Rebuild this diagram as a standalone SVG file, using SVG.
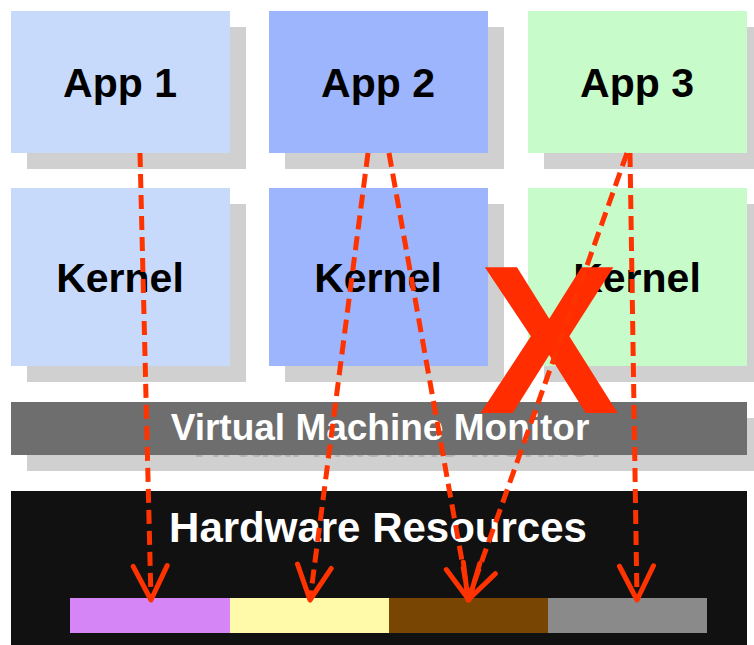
<svg xmlns="http://www.w3.org/2000/svg" width="754" height="645" viewBox="0 0 754 645">
<defs>
<style>
.shadow{fill:#d0d0d0}
.lbl{font-family:"Liberation Sans",Arial,sans-serif;font-weight:bold;text-anchor:middle}
.dark{fill:#000;font-size:41px}
.conn{fill:none;stroke:#ff3300;stroke-width:5;stroke-dasharray:14 7}
</style>
<marker id="vh" markerUnits="userSpaceOnUse" orient="auto" refX="0" refY="0" markerWidth="40" markerHeight="40" overflow="visible">
<path d="M-34,-17 L0,0 L-34,17" fill="none" stroke="#ff3300" stroke-width="5" stroke-linecap="round" stroke-linejoin="round"/>
</marker>
</defs>
<rect width="754" height="645" fill="#fff"/>

<g id="app1">
<rect class="shadow" x="27" y="27" width="219" height="142"/>
<rect x="11" y="11" width="219" height="142" fill="#c8dafc"/>
<text class="lbl dark" x="120" y="97">App 1</text>
</g>
<g id="app2">
<rect class="shadow" x="285" y="27" width="219" height="142"/>
<rect x="269" y="11" width="219" height="142" fill="#9db5fc"/>
<text class="lbl dark" x="378" y="97">App 2</text>
</g>
<g id="app3">
<rect class="shadow" x="544" y="27" width="219" height="142"/>
<rect x="528" y="11" width="219" height="142" fill="#c8fbca"/>
<text class="lbl dark" x="637" y="97">App 3</text>
</g>

<g id="kernel1">
<rect class="shadow" x="27" y="204" width="219" height="178"/>
<rect x="11" y="188" width="219" height="178" fill="#c8dafc"/>
<text class="lbl dark" x="120" y="292">Kernel</text>
</g>
<g id="kernel2">
<rect class="shadow" x="285" y="204" width="219" height="178"/>
<rect x="269" y="188" width="219" height="178" fill="#9db5fc"/>
<text class="lbl dark" x="378" y="292">Kernel</text>
</g>
<g id="kernel3">
<rect class="shadow" x="544" y="204" width="219" height="178"/>
<rect x="528" y="188" width="219" height="178" fill="#c8fbca"/>
<text class="lbl dark" x="637" y="292">Kernel</text>
</g>

<g id="vmm">
<rect class="shadow" x="27" y="418" width="740" height="53"/>
<text class="lbl" x="396" y="457" font-size="37" fill="#b4b4b4">Virtual Machine Monitor</text>
<rect x="11" y="402" width="736" height="53" fill="#6e6e6e"/>
<text class="lbl" x="380" y="440" font-size="37" fill="#fff">Virtual Machine Monitor</text>
</g>

<g id="hardware">
<rect x="11" y="491" width="736" height="160" fill="#111"/>
<text class="lbl" x="378" y="542" font-size="42" fill="#fff">Hardware Resources</text>
</g>
<g id="res1"><rect x="70" y="598" width="160" height="35" fill="#d685f7"/></g>
<g id="res2"><rect x="230" y="598" width="159" height="35" fill="#fffaaa"/></g>
<g id="res3"><rect x="389" y="598" width="159" height="35" fill="#794502"/></g>
<g id="res4"><rect x="548" y="598" width="159" height="35" fill="#8a8a8a"/></g>

<g id="cross">
<text class="lbl" x="549" y="413" font-size="211" fill="#ff2d00">X</text>
</g>

<g id="connectors">
<path class="conn" d="M140,153 L151,600" marker-end="url(#vh)"/>
<path class="conn" d="M368,153 L310,600" marker-end="url(#vh)"/>
<path class="conn" d="M389,153 L469,600" marker-end="url(#vh)"/>
<path class="conn" d="M627,153 L468,600" marker-end="url(#vh)"/>
<path class="conn" d="M630,153 L637,600" marker-end="url(#vh)"/>
</g>
</svg>
